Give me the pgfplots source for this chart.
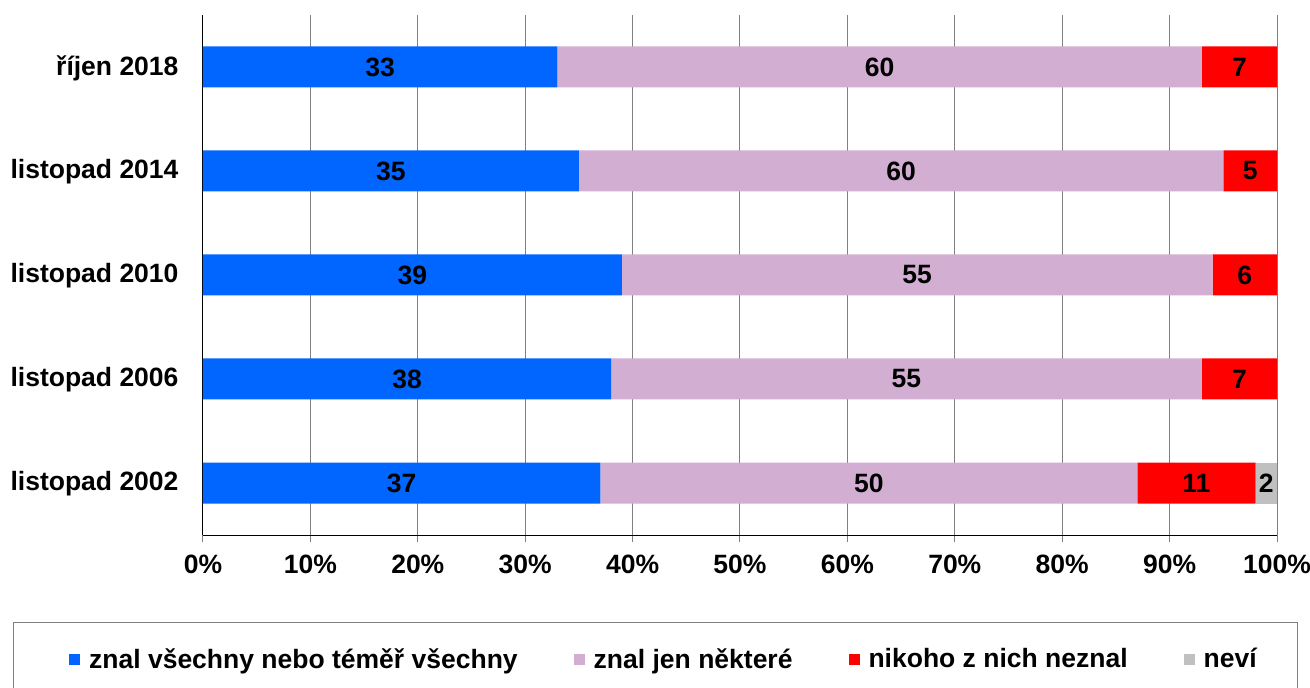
\documentclass[border=0pt]{standalone}
\usepackage{pgfplots}
\pgfplotsset{compat=1.18}
\usepackage{fontspec}
\setmainfont{Liberation Sans}
\definecolor{cBlue}{HTML}{0066FF}
\definecolor{cPink}{HTML}{D2AFD2}
\definecolor{cRed}{HTML}{FF0000}
\definecolor{cGray}{HTML}{C0C0C0}
\definecolor{cGrid}{HTML}{808080}
\newcommand{\bigfont}{\fontsize{26.5bp}{30bp}\selectfont\bfseries}
\begin{document}
\begin{tikzpicture}
\begin{axis}[
  scale only axis,
  width=1074bp, height=520bp,
  xbar stacked,
  bar width=41bp,
  xmin=0, xmax=100,
  ymin=-0.5, ymax=4.5,
  axis lines*=left,
  axis line style={black, line width=1bp},
  xtick={0,10,...,100},
  xticklabel={\pgfmathprintnumber{\tick}\%},
  xmajorgrids,
  grid style={cGrid, line width=1bp},
  tick align=outside,
  major tick length=7bp,
  minor tick length=9bp,
  xtick style={cGrid, line width=1bp},
  ytick={0,1,2,3,4},
  yticklabels={listopad 2002, listopad 2006, listopad 2010, listopad 2014, říjen 2018},
  ytick style={draw=none},
  minor ytick={-0.5,0.5,1.5,2.5,3.5,4.5},
  minor tick style={cGrid, line width=1bp, draw=cGrid},
  /pgf/number format/assume math mode=true,
  tick label style={font=\bigfont},
  yticklabel style={xshift=-14bp, yshift=-1bp},
  xticklabel style={yshift=-9bp},
  nodes near coords,
  point meta=explicit,
  every node near coord/.append style={font=\bigfont, text=black},
  legend columns=-1,
  legend style={at={(axis description cs:-0.1248,-0.2385)}, anchor=west,
    draw=none, fill=none, font=\bigfont, inner xsep=0pt,
    /tikz/every odd column/.append style={column sep=7bp},
    /tikz/every even column/.append style={column sep=54bp}},
  legend image code/.code={\fill[#1] (0bp,-5.5bp) rectangle (11bp,5.5bp);},
]
\addplot[fill=cBlue, draw=none] table[x=v, y=c, meta=v] {
c v
0 37
1 38
2 39
3 35
4 33
};
\addplot[fill=cPink, draw=none] table[x=v, y=c, meta=v] {
c v
0 50
1 55
2 55
3 60
4 60
};
\addplot[fill=cRed, draw=none] table[x=v, y=c, meta=v] {
c v
0 11
1 7
2 6
3 5
4 7
};
\addplot[fill=cGray, draw=none] table[x=v, y=c, meta=v] {
c v
0 2
};
\legend{znal všechny nebo téměř všechny, znal jen některé, nikoho z nich neznal, neví}
\end{axis}
\draw[cGrid, line width=1bp] (-189bp,-87bp) rectangle (1094bp,-175bp);
\pgfresetboundingbox
\useasboundingbox (-203bp,-153bp) rectangle (1107bp,535bp);
\end{tikzpicture}
\end{document}
